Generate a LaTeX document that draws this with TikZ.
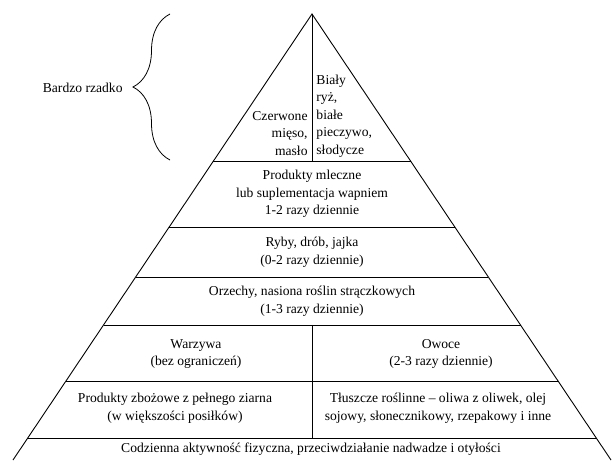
\documentclass[tikz,border=0pt]{standalone}
\usepackage{fontspec}
\setmainfont{Liberation Serif}
\usetikzlibrary{calc,decorations.pathreplacing}
\begin{document}
\begin{tikzpicture}[x=1pt,y=1pt,line width=0.9pt,
  lbl/.style={align=center,font=\fontsize{13.6}{17.5}\selectfont,inner sep=0pt},
  lblr/.style={lbl,align=right,anchor=east},
  lbll/.style={lbl,align=left,anchor=west},
  bracestyle/.style={decorate,decoration={brace,amplitude=37pt},line width=0.8pt}]
\useasboundingbox (0,0) rectangle (612,460);
\coordinate (A) at (312,446);
\coordinate (BL) at (13,0);
\coordinate (BR) at (611,0);
\draw (BL) -- (A) -- (BR);
\foreach \t in {0.3296,0.4776,0.5897,0.6973,0.8229,0.9507}{
  \draw ($(A)!\t!(BL)$) -- ($(A)!\t!(BR)$);
}
\coordinate (D1) at (312,299);
\coordinate (D2) at (312,135);
\coordinate (D3) at (312,22);
\draw (A) -- (D1);
\draw (D2) -- (D3);
% brace
\coordinate (Bb) at (170,300);
\coordinate (Bt) at (170,446);
\draw[bracestyle] (Bb) -- (Bt);
\node[lbl,anchor=east] (bz) at (123,372) {Bardzo rzadko};
% texts
\node[lblr] (cz) at (308,326.5) {Czerwone\\mięso,\\masło};
\node[lbll] (bi) at (316,344) {Biały\\ryż,\\białe\\pieczywo,\\słodycze};
\node[lbl] (ml) at (312,266) {Produkty mleczne\\lub suplementacja wapniem\\1-2 razy dziennie};
\node[lbl] (ry) at (312,208) {Ryby, drób, jajka\\(0-2 razy dziennie)};
\node[lbl] (or) at (312,159) {Orzechy, nasiona roślin strączkowych\\(1-3 razy dziennie)};
\node[lbl] (wa) at (196,106) {Warzywa\\(bez ograniczeń)};
\node[lbl] (ow) at (441,106) {Owoce\\(2-3 razy dziennie)};
\node[lbl] (zb) at (175,52) {Produkty zbożowe z pełnego ziarna\\(w większości posiłków)};
\node[lbl] (tl) at (438,52) {Tłuszcze roślinne – oliwa z oliwek, olej\\sojowy, słonecznikowy, rzepakowy i inne};
\node[lbl] (co) at (311,11) {Codzienna aktywność fizyczna, przeciwdziałanie nadwadze i otyłości};
\end{tikzpicture}
\end{document}
